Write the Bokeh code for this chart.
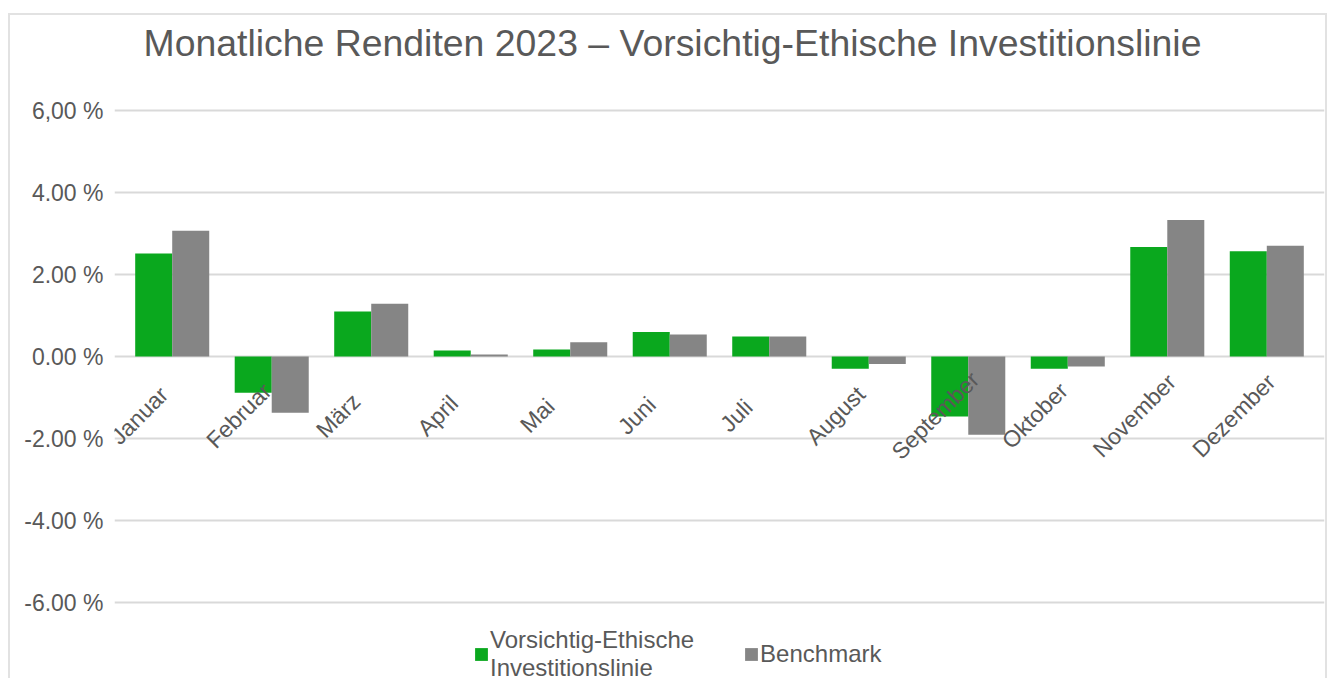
from math import pi
from bokeh.plotting import figure
from bokeh.models import (FactorRange, Range1d, FixedTicker, Legend, LegendItem,
                          ColumnDataSource, Label)
from bokeh.transform import dodge
from bokeh.core.properties import value
from bokeh.embed import file_html
from bokeh.resources import INLINE

# ---- data ----
months = ["Januar", "Februar", "März", "April", "Mai", "Juni", "Juli",
          "August", "September", "Oktober", "November", "Dezember"]
fund = [2.51, -0.88, 1.10, 0.15, 0.17, 0.60, 0.49, -0.30, -1.46, -0.30, 2.67, 2.57]
bench = [3.07, -1.37, 1.29, 0.05, 0.35, 0.54, 0.49, -0.18, -1.91, -0.24, 3.33, 2.70]
y_ticks = [-6, -4, -2, 0, 2, 4, 6]
y_tick_labels = ["-6.00 %", "-4.00 %", "-2.00 %", "0.00 %", "2.00 %", "4.00 %", "6,00 %"]
series_names = ["Vorsichtig-Ethische\nInvestitionslinie", "Benchmark"]
title_text = "Monatliche Renditen 2023 – Vorsichtig-Ethische Investitionslinie"

GREEN = "#0aa81e"
GRAY = "#858585"
TEXT = "#595959"
GRID = "#d9d9d9"
FONT = "Liberation Sans"

x_range = FactorRange(*months, range_padding=0.08, range_padding_units="absolute")
p = figure(x_range=x_range, y_range=Range1d(-7.9, 8.317),
           width=1315, height=665, output_backend="svg", toolbar_location=None,
           x_axis_location=None,
           min_border_left=104, min_border_right=1, min_border_top=0,
           min_border_bottom=0)
p.styles = {"margin-left": "10px", "margin-top": "15px",
            "box-shadow": "-2px -2px 0 0 #e2e2e2, 2px -2px 0 0 #e2e2e2"}
p.outline_line_color = None
p.background_fill_color = "white"
p.border_fill_color = "white"

# chart title, placed in screen pixels inside the frame
p.add_layout(Label(x=29, y=638, x_units="screen", y_units="screen",
                   text=title_text, text_font=FONT, text_font_size="37.4px",
                   text_color=TEXT, text_baseline="alphabetic", text_align="left"))

ticker = FixedTicker(ticks=y_ticks)
p.yaxis.ticker = ticker
p.yaxis.major_label_overrides = {float(t): l for t, l in zip(y_ticks, y_tick_labels)}
p.yaxis.axis_line_color = None
p.yaxis.major_tick_line_color = None
p.yaxis.minor_tick_line_color = None
p.yaxis.major_label_standoff = 5
p.yaxis.major_label_text_font = FONT
p.yaxis.major_label_text_font_size = "23px"
p.yaxis.major_label_text_color = TEXT
p.ygrid.ticker = ticker
p.ygrid.grid_line_color = GRID
p.ygrid.grid_line_width = 2
p.xgrid.visible = False

src = ColumnDataSource(dict(month=months, fund=fund, bench=bench))
r1 = p.vbar(x=dodge("month", -0.186, range=p.x_range), top="fund", bottom=0,
            width=0.372, source=src, fill_color=GREEN, line_color=None)
r2 = p.vbar(x=dodge("month", 0.186, range=p.x_range), top="bench", bottom=0,
            width=0.372, source=src, fill_color=GRAY, line_color=None)

p.text(x="month", y=0, text="month", source=src, angle=pi / 4,
       text_align="center", text_baseline="middle", x_offset=-33, y_offset=59,
       text_font=value(FONT), text_font_size="23px", text_color=TEXT)

legend = Legend(items=[LegendItem(label=series_names[0], renderers=[r1]),
                       LegendItem(label=series_names[1], renderers=[r2])],
                orientation="horizontal", location=(359, -2),
                glyph_width=16, glyph_height=16, label_standoff=1, spacing=49,
                padding=0, margin=0, background_fill_alpha=0,
                border_line_color=None, label_text_font=FONT,
                label_text_font_size="24px", label_text_line_height=0.85,
                label_text_color=TEXT)
p.add_layout(legend, "center")

open("out.html", "w").write(file_html(p, INLINE))
